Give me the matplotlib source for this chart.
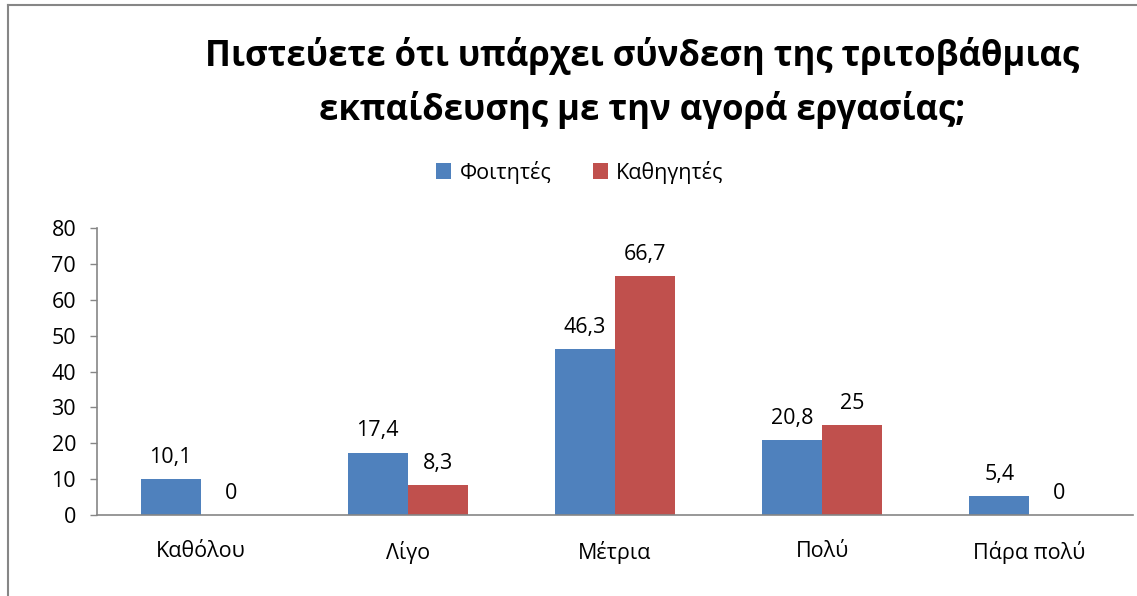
import numpy as np
import matplotlib
matplotlib.use("Agg")
import matplotlib.pyplot as plt
from matplotlib.lines import Line2D

plt.rcParams['font.family'] = ['Open Sans', 'DejaVu Sans']

categories = ["Καθόλου", "Λίγο", "Μέτρια", "Πολύ", "Πάρα πολύ"]
foitites = [10.1, 17.4, 46.3, 20.8, 5.4]
kathigites = [0, 8.3, 66.7, 25, 0]
series_names = ["Φοιτητές", "Καθηγητές"]
title = "Πιστεύετε ότι υπάρχει σύνδεση της τριτοβάθμιας\nεκπαίδευσης με την αγορά εργασίας;"

blue = "#4F81BD"
red = "#C0504D"
grey = "#868686"
fs = 15.5

fig = plt.figure(figsize=(11.37, 5.96), dpi=100)
ax = fig.add_axes([97/1137, 1-515/596, (1133-97)/1137, (515-228)/596])

x = np.arange(len(categories))
w = 0.29
b1 = ax.bar(x - w/2, foitites, w, color=blue, label=series_names[0])
b2 = ax.bar(x + w/2, kathigites, w, color=red, label=series_names[1])

def fmt(v):
    s = ("%.1f" % v).rstrip("0").rstrip(".")
    return s.replace(".", ",")

for bars, vals in [(b1, foitites), (b2, kathigites)]:
    for r, v in zip(bars, vals):
        ax.annotate(fmt(v), (r.get_x() + r.get_width()/2, v), xytext=(0, 8),
                    textcoords="offset points", ha="center", va="bottom", fontsize=fs)

ax.set_xlim(-0.5, len(categories) - 0.5)
ax.set_ylim(0, 80)
ax.set_yticks(range(0, 81, 10))
ax.set_xticks(x, categories)
ax.tick_params(axis="y", length=5, width=1, color=grey, pad=10, labelsize=fs)
ax.tick_params(axis="x", length=0, pad=19, labelsize=fs)
for s in ["top", "right"]:
    ax.spines[s].set_visible(False)
for s in ["left", "bottom"]:
    ax.spines[s].set_color(grey)
    ax.spines[s].set_linewidth(1.2)

fig.text(642/1137, 1-83/596, title, ha="center", va="center", fontsize=25,
         fontweight="bold", linespacing=1.55)

fig.legend(loc="center", bbox_to_anchor=(580/1137, 1-172/596), ncol=2, frameon=False,
           fontsize=fs, handlelength=0.7, handleheight=0.7, handletextpad=0.4,
           columnspacing=1.9)

# chart area border (only left and top visible in the crop)
fig.add_artist(Line2D([8/1137, 8/1137], [0, 1-5/596], color=grey, lw=1.5))
fig.add_artist(Line2D([8/1137, 1], [1-5/596, 1-5/596], color=grey, lw=1.5))

fig.savefig("out.png", dpi=100)
